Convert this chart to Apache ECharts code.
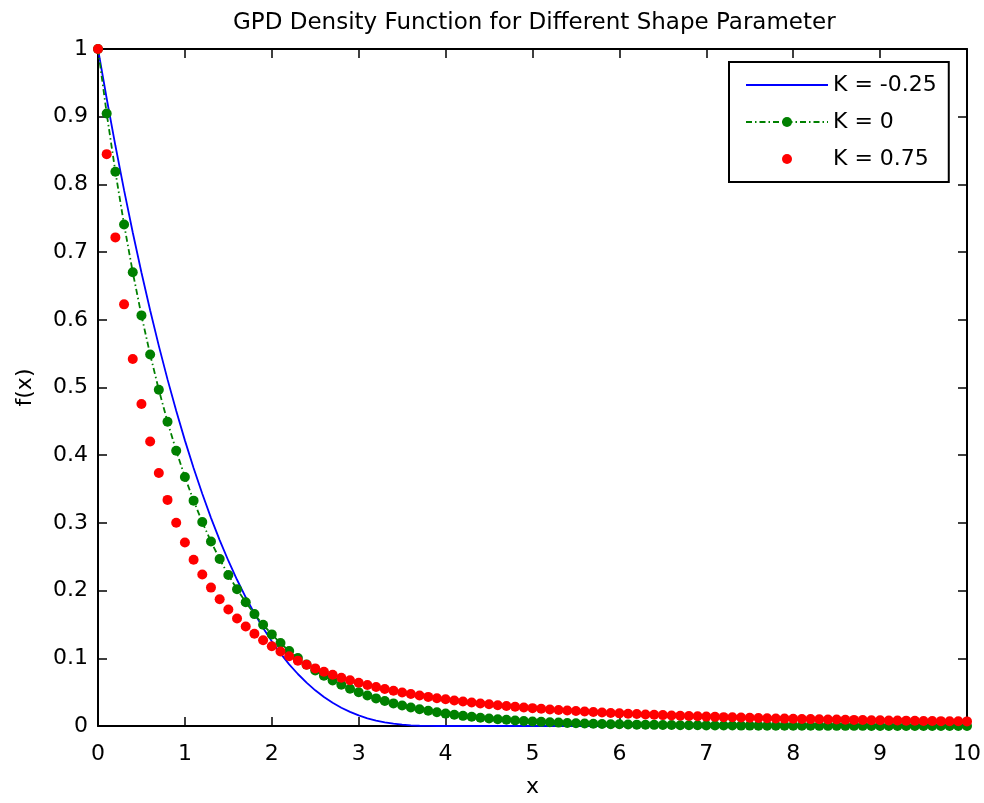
<!DOCTYPE html>
<html>
<head>
<meta charset="utf-8">
<script src="https://cdn.jsdelivr.net/npm/echarts@6/dist/echarts.min.js"></script>
<style>
html,body{margin:0;padding:0;background:#fff;}
#chart{width:984px;height:803px;}
</style>
</head>
<body>
<div id="chart"></div>
<script>
// x grid
var xs = [0,0.1,0.2,0.3,0.4,0.5,0.6,0.7,0.8,0.9,1,1.1,1.2,1.3,1.4,1.5,1.6,1.7,1.8,1.9,2,2.1,2.2,2.3,2.4,2.5,2.6,2.7,2.8,2.9,3,3.1,3.2,3.3,3.4,3.5,3.6,3.7,3.8,3.9,4,4.1,4.2,4.3,4.4,4.5,4.6,4.7,4.8,4.9,5,5.1,5.2,5.3,5.4,5.5,5.6,5.7,5.8,5.9,6,6.1,6.2,6.3,6.4,6.5,6.6,6.7,6.8,6.9,7,7.1,7.2,7.3,7.4,7.5,7.6,7.7,7.8,7.9,8,8.1,8.2,8.3,8.4,8.5,8.6,8.7,8.8,8.9,9,9.1,9.2,9.3,9.4,9.5,9.6,9.7,9.8,9.9,10];

// K = -0.25 (blue line)
var kNeg = [1,0.9269,0.8574,0.7915,0.729,0.6699,0.6141,0.5615,0.512,0.4655,0.4219,0.3811,0.343,0.3075,0.2746,0.2441,0.216,0.1901,0.1664,0.1447,0.125,0.1072,0.0911,0.0768,0.064,0.0527,0.0429,0.0343,0.027,0.0208,0.0156,0.0114,0.008,0.0054,0.0034,0.002,0.001,0.0004,0.0001,0,0,0,0,0,0,0,0,0,0,0,0,0,0,0,0,0,0,0,0,0,0,0,0,0,0,0,0,0,0,0,0,0,0,0,0,0,0,0,0,0,0,0,0,0,0,0,0,0,0,0,0,0,0,0,0,0,0,0,0,0,0];

// K = 0 (green dash-dot with dots)
var kZero = [1,0.9048,0.8187,0.7408,0.6703,0.6065,0.5488,0.4966,0.4493,0.4066,0.3679,0.3329,0.3012,0.2725,0.2466,0.2231,0.2019,0.1827,0.1653,0.1496,0.1353,0.1225,0.1108,0.1003,0.0907,0.0821,0.0743,0.0672,0.0608,0.055,0.0498,0.045,0.0408,0.0369,0.0334,0.0302,0.0273,0.0247,0.0224,0.0202,0.0183,0.0166,0.015,0.0136,0.0123,0.0111,0.0101,0.0091,0.0082,0.0074,0.0067,0.0061,0.0055,0.005,0.0045,0.0041,0.0037,0.0033,0.003,0.0027,0.0025,0.0022,0.002,0.0018,0.0017,0.0015,0.0014,0.0012,0.0011,0.001,0.0009,0.0008,0.0007,0.0007,0.0006,0.0006,0.0005,0.0005,0.0004,0.0004,0.0003,0.0003,0.0003,0.0002,0.0002,0.0002,0.0002,0.0002,0.0002,0.0001,0.0001,0.0001,0.0001,0.0001,0.0001,0.0001,0.0001,0.0001,0.0001,0.0001,0];

// K = 0.75 (red dots)
var kPos = [1,0.8447,0.7217,0.6228,0.5422,0.4757,0.4202,0.3736,0.334,0.3001,0.271,0.2457,0.2237,0.2044,0.1873,0.1722,0.1588,0.1469,0.1362,0.1266,0.1179,0.11,0.1029,0.0964,0.0905,0.0851,0.0801,0.0756,0.0714,0.0675,0.0639,0.0606,0.0575,0.0547,0.052,0.0495,0.0472,0.0451,0.043,0.0411,0.0394,0.0377,0.0361,0.0347,0.0333,0.032,0.0307,0.0295,0.0284,0.0273,0.0264,0.0254,0.0245,0.0237,0.0229,0.0221,0.0213,0.0206,0.02,0.0193,0.0187,0.0181,0.0176,0.0171,0.0165,0.0161,0.0156,0.0151,0.0147,0.0143,0.0139,0.0135,0.0131,0.0128,0.0125,0.0121,0.0118,0.0115,0.0112,0.0109,0.0107,0.0104,0.0102,0.0099,0.0097,0.0095,0.0092,0.009,0.0088,0.0086,0.0084,0.0082,0.008,0.0079,0.0077,0.0075,0.0074,0.0072,0.0071,0.0069,0.0068];

var seriesNames = ['K = -0.25', 'K = 0', 'K = 0.75'];
var titleText = 'GPD Density Function for Different Shape Parameter';

function pairs(ys){ return xs.map(function(x,i){ return [x, ys[i]]; }); }

var FONT = 'DejaVu Sans';
var chart = echarts.init(document.getElementById('chart'), null, {renderer:'canvas'});

var axisCommon = {
  type: 'value',
  axisLine: {show: true, onZero: false, lineStyle: {color: '#000', width: 2}},
  axisTick: {show: true, inside: true, length: 9, lineStyle: {color: '#000', width: 1.5}},
  splitLine: {show: false}
};

chart.setOption({
  animation: false,
  backgroundColor: '#fff',
  title: {
    text: titleText,
    left: 228,
    top: 7,
    textStyle: {fontFamily: FONT, fontSize: 23, fontWeight: 'normal', color: '#000'}
  },
  grid: {left: 98, right: 17, top: 49, bottom: 72, containLabel: false},
  legend: {
    orient: 'vertical',
    left: 729,
    top: 62,
    padding: [11, 12, 11, 16],
    borderColor: '#000',
    borderWidth: 2,
    backgroundColor: '#fff',
    itemWidth: 82,
    itemHeight: 12.5,
    itemGap: 13,
    textStyle: {fontFamily: FONT, fontSize: 22, color: '#000', lineHeight: 24},
    data: [
      {name: seriesNames[0], itemStyle: {opacity: 0}},
      {name: seriesNames[1]},
      {name: seriesNames[2]}
    ]
  },
  xAxis: [
    Object.assign({}, axisCommon, {
      position: 'bottom', min: 0, max: 10, interval: 1,
      name: 'x', nameLocation: 'middle', nameGap: 50,
      nameTextStyle: {fontFamily: FONT, fontSize: 22, color: '#000'},
      axisLabel: {fontFamily: FONT, fontSize: 22, color: '#000', margin: 17}
    }),
    Object.assign({}, axisCommon, {
      position: 'top', min: 0, max: 10, interval: 1,
      axisLabel: {show: false}
    })
  ],
  yAxis: [
    Object.assign({}, axisCommon, {
      position: 'left', min: 0, max: 1, interval: 0.1,
      name: 'f(x)', nameLocation: 'middle', nameGap: 62,
      nameTextStyle: {fontFamily: FONT, fontSize: 22, color: '#000'},
      axisLabel: {fontFamily: FONT, fontSize: 22, color: '#000', margin: 10}
    }),
    Object.assign({}, axisCommon, {
      position: 'right', min: 0, max: 1, interval: 0.1,
      axisLabel: {show: false}
    })
  ],
  series: [
    {
      name: seriesNames[0], type: 'line', data: pairs(kNeg),
      xAxisIndex: 0, yAxisIndex: 0,
      showSymbol: false, symbol: 'circle', symbolSize: 0,
      lineStyle: {color: '#0000ff', width: 1.8},
      itemStyle: {color: '#0000ff'},
      clip: false, z: 3
    },
    {
      name: seriesNames[1], type: 'line', data: pairs(kZero),
      xAxisIndex: 0, yAxisIndex: 0,
      symbol: 'circle', symbolSize: 10, showAllSymbol: true,
      lineStyle: {color: '#008000', width: 1.8, type: [6, 3, 1.5, 3]},
      itemStyle: {color: '#008000'},
      clip: false, z: 4
    },
    {
      name: seriesNames[2], type: 'line', data: pairs(kPos),
      xAxisIndex: 0, yAxisIndex: 0,
      symbol: 'circle', symbolSize: 10, showAllSymbol: true,
      lineStyle: {color: '#ff0000', width: 0, opacity: 0},
      itemStyle: {color: '#ff0000'},
      clip: false, z: 5
    }
  ]
});
</script>
</body>
</html>
